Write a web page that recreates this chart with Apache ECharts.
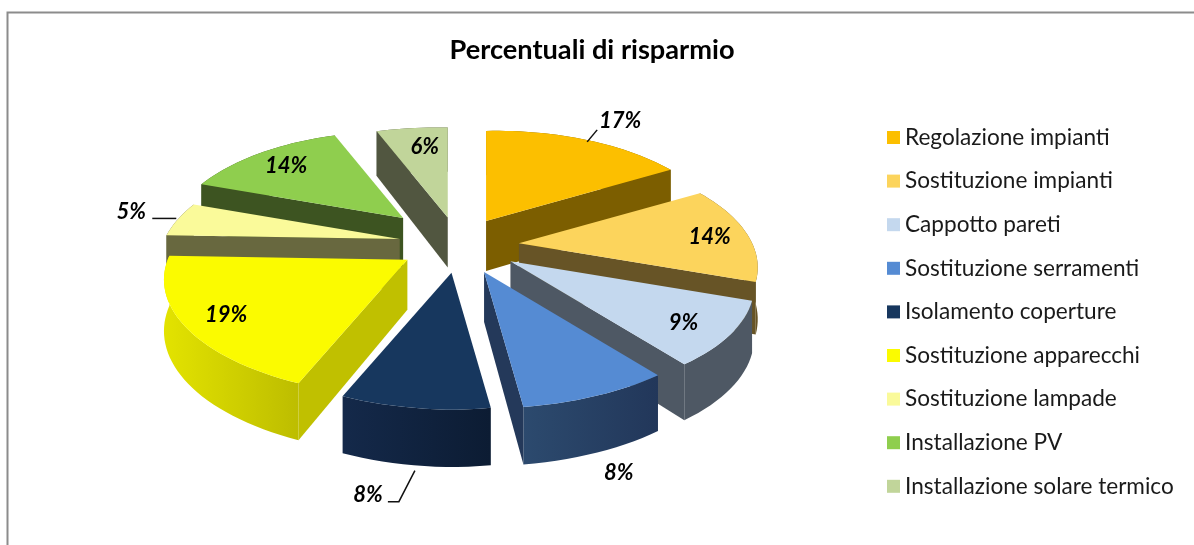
<!DOCTYPE html>
<html><head><meta charset="utf-8">
<style>html,body{margin:0;padding:0;background:#fff}#c{width:1194px;height:545px}</style>
<script src="https://cdn.jsdelivr.net/npm/echarts@6/dist/echarts.min.js"></script>
</head><body><div id="c"></div>
<script>
const titleText = 'Percentuali di risparmio';
const categories = ['Regolazione impianti','Sostituzione impianti','Cappotto pareti','Sostituzione serramenti','Isolamento coperture','Sostituzione apparecchi','Sostituzione lampade','Installazione PV','Installazione solare termico'];
const values = [17,14,9,8,8,19,5,14,6];

// styles
const topColors = ['#FCBF00','#FCD45C','#C4D8EE','#558BD3','#17375E','#FBFB00','#FAFA9A','#8FCE4E','#C1D59A'];
const faceColors = ['#7C5E00','#675426','#4E5864','#24395A','#0E2139','#C0C000','#68683F','#3D5421','#515640'];
const rimLeft = ['#7C5E00','#675426','#4E5864','#2C4A6E','#14294A','#E3E300','#68683F','#3D5421','#515640'];
const rimRight = ['#7C5E00','#675426','#4E5864','#22375A','#0C1C33','#BDBD00','#68683F','#3D5421','#515640'];
const explodeScale = [1,1,1,1,1,1,1,1.3,1];
const explodeNudgeX = [-3.5,0,4,3,0,-2,0,1,0];
const explodeNudgeY = [0,0,-1,1,0,-1,-1.5,-2,0];
const radiusScale = [1,0.98,1,1,1,1,0.98,0.96,1];
const labelShift = [0.4,-1,0,4.6,2.4,1.2,4,1.8,2.2];
const labelRadius = [1.27,0.81,0.8,1.54,1.65,0.8,1.2,0.79,0.805];
const labelNudgeX = [7,4,-3,-5,-1,-1,-5,-4,0];
const labelNudgeY = [3,4,3,3,1,5,5,3,2];
const leaders = [[[-33,21],[-23,9]],null,null,null,[[20,7],[31,7],[47,-24]],null,[[21,7],[45,7]],null,null];
const drawOrder = [8,0,7,6,1,2,5,3,4];

// 3D view of the disc
const CX=459, CY=245, EX=60, EY=28, A_R=236, A_L=238, B=108.6, PERSP=0.207, PERSPX=0.25, PERSPX_NEARLEFT=0.21, TILT=4, DEPTH=50, DEPTHP=0.13;
const total = values.reduce((s,v)=>s+v,0);
const RAD = Math.PI/180;
function sliceRange(i){
  let a=0; for(let k=0;k<i;k++) a+=values[k];
  return [a/total*360,(a+values[i])/total*360];
}
function apexOf(i){
  const [s,e]=sliceRange(i), m=(s+e)/2*RAD, f=explodeScale[i];
  return [CX+EX*f*Math.sin(m)+explodeNudgeX[i], CY-EY*f*Math.cos(m)+explodeNudgeY[i]];
}
function rimPt(ap,deg,r){
  const u=Math.sin(deg*RAD), v=Math.cos(deg*RAD);
  const a=u>=0?A_R:A_L;
  const px=(u<0&&v<0)?PERSPX_NEARLEFT:PERSPX;
  return [ap[0]+r*a*u/(1+px*v), ap[1]-r*B*v/(1+PERSP*v)-r*TILT*Math.abs(u)];
}
const depthAt = deg => DEPTH/(1+DEPTHP*Math.cos(deg*RAD));

function renderSlice(i){
  return function(params, api){
    const val = api.value(0);
    const [s,e]=sliceRange(i), ap=apexOf(i), steps=Math.max(6,Math.round((e-s)/2));
    const rim=[], rimLow=[], rs=radiusScale[i];
    for(let k=0;k<=steps;k++){
      const d=s+(e-s)*k/steps, p=rimPt(ap,d,rs);
      rim.push(p); rimLow.push([p[0],p[1]+depthAt(d)]);
    }
    const apLow=[ap[0],ap[1]+DEPTH];
    const mid=rimPt(ap,(s+e)/2,0.6);
    const kids=[];
    const xs=rim.map(p=>p[0]);
    kids.push({type:'polygon',shape:{points:rim.concat(rimLow.slice().reverse())},
      style:{fill:new echarts.graphic.LinearGradient(Math.min(...xs),0,Math.max(...xs),0,
        [{offset:0,color:rimLeft[i]},{offset:1,color:rimRight[i]}],true),
        stroke:null}});
    [[rim[0],rimLow[0]],[rim[steps],rimLow[steps]]].forEach(([p,q])=>{
      const ex=p[0]-ap[0], ey=p[1]-ap[1];
      const crossMid=ex*(mid[1]-ap[1])-ey*(mid[0]-ap[0]);
      if(Math.abs(ex)>3 && Math.sign(ex)!==Math.sign(crossMid)){
        kids.push({type:'polygon',shape:{points:[ap,p,q,apLow]},style:{fill:faceColors[i]}});
      }
    });
    kids.push({type:'polygon',shape:{points:[ap].concat(rim)},style:{fill:topColors[i]}});
    const l0=rimPt(ap,(s+e)/2+labelShift[i],labelRadius[i]);
    const lp=[l0[0]+labelNudgeX[i],l0[1]+labelNudgeY[i]];
    if(leaders[i]){
      kids.push({type:'polyline',shape:{points:leaders[i].map(o=>[lp[0]+o[0],lp[1]+o[1]])},
        style:{fill:null,stroke:'#111',lineWidth:1.5}});
    }
    kids.push({type:'text',style:{x:lp[0],y:lp[1],text:val+'%',align:'center',verticalAlign:'middle',
      fill:'#000',font:'italic bold 22px Lato'}});
    return {type:'group',children:kids};
  };
}

const chart = echarts.init(document.getElementById('c'),null,{renderer:'canvas'});
chart.setOption({
  animation:false,
  backgroundColor:'#fff',
  title:{text:titleText,left:587,top:32,textAlign:'center',
    textStyle:{fontFamily:'Lato',fontWeight:'bold',fontSize:27.2,color:'#000'}},
  legend:{orient:'vertical',left:887,top:126,height:400,icon:'rect',itemWidth:13,itemHeight:13,itemGap:20.6,itemSymbolKeepAspect:false,
    selectedMode:false,data:categories,
    textStyle:{fontFamily:'Lato',fontSize:22.6,color:'#1a1a1a'},padding:0},
  graphic:[{type:'rect',shape:{x:7.5,y:12.5,width:1400,height:800},
    style:{fill:null,stroke:'#8c8c8c',lineWidth:2},silent:true,z:-1}],
  series:categories.map((name,i)=>({
    type:'custom',name,coordinateSystem:'none',silent:true,clip:false,
    z:2+drawOrder.indexOf(i),
    itemStyle:{color:topColors[i]},
    data:[[values[i]]],
    renderItem:renderSlice(i)
  }))
});
</script></body></html>
